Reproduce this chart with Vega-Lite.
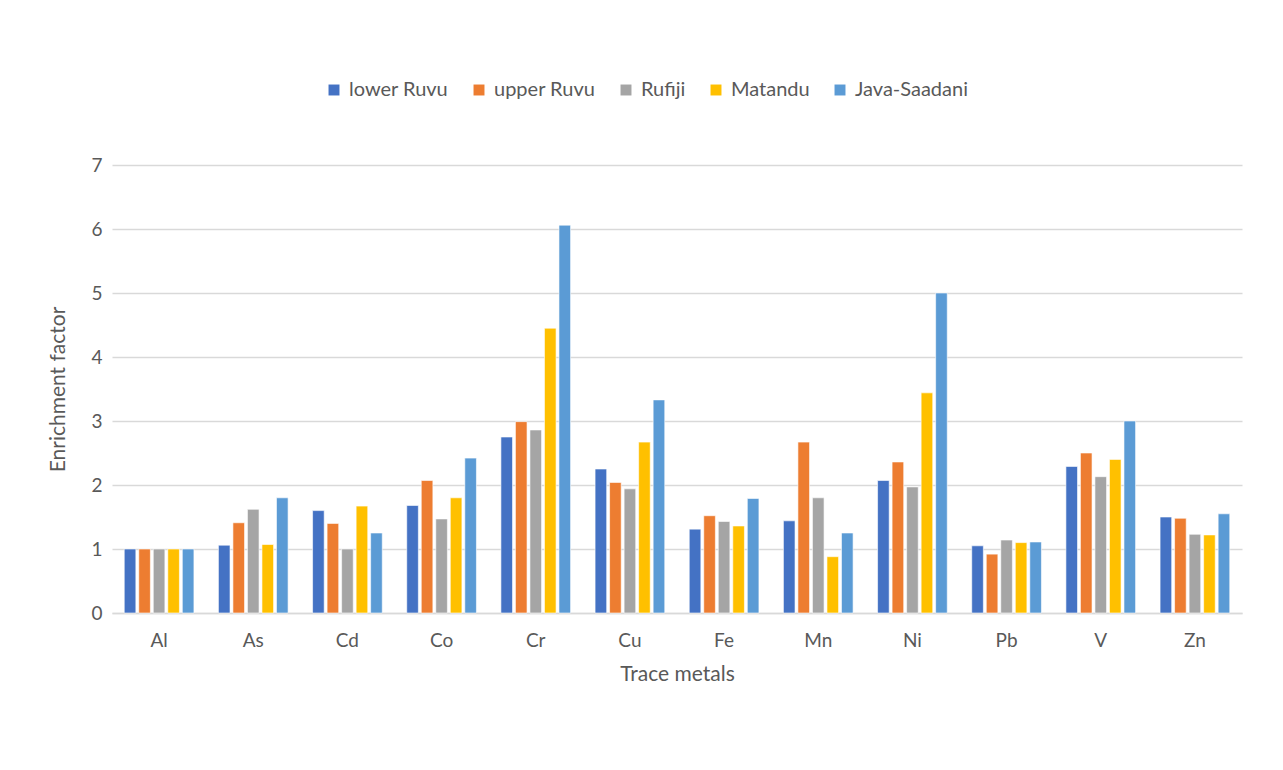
{
  "$schema": "https://vega.github.io/schema/vega-lite/v6.json",
  "autosize": "none",
  "width": 1130,
  "height": 448,
  "padding": {"left": 112, "top": 165, "right": 41, "bottom": 157},
  "background": "white",
  "data": {
    "values": [
      {"metal": "Al", "site": "lower Ruvu", "ef": 1.0},
      {"metal": "Al", "site": "upper Ruvu", "ef": 1.0},
      {"metal": "Al", "site": "Rufiji", "ef": 1.0},
      {"metal": "Al", "site": "Matandu", "ef": 1.0},
      {"metal": "Al", "site": "Java-Saadani", "ef": 1.0},
      {"metal": "As", "site": "lower Ruvu", "ef": 1.06},
      {"metal": "As", "site": "upper Ruvu", "ef": 1.41},
      {"metal": "As", "site": "Rufiji", "ef": 1.62},
      {"metal": "As", "site": "Matandu", "ef": 1.07},
      {"metal": "As", "site": "Java-Saadani", "ef": 1.8},
      {"metal": "Cd", "site": "lower Ruvu", "ef": 1.6},
      {"metal": "Cd", "site": "upper Ruvu", "ef": 1.4},
      {"metal": "Cd", "site": "Rufiji", "ef": 1.0},
      {"metal": "Cd", "site": "Matandu", "ef": 1.67},
      {"metal": "Cd", "site": "Java-Saadani", "ef": 1.25},
      {"metal": "Co", "site": "lower Ruvu", "ef": 1.68},
      {"metal": "Co", "site": "upper Ruvu", "ef": 2.07},
      {"metal": "Co", "site": "Rufiji", "ef": 1.47},
      {"metal": "Co", "site": "Matandu", "ef": 1.8},
      {"metal": "Co", "site": "Java-Saadani", "ef": 2.42},
      {"metal": "Cr", "site": "lower Ruvu", "ef": 2.75},
      {"metal": "Cr", "site": "upper Ruvu", "ef": 2.99},
      {"metal": "Cr", "site": "Rufiji", "ef": 2.86},
      {"metal": "Cr", "site": "Matandu", "ef": 4.45},
      {"metal": "Cr", "site": "Java-Saadani", "ef": 6.06},
      {"metal": "Cu", "site": "lower Ruvu", "ef": 2.25},
      {"metal": "Cu", "site": "upper Ruvu", "ef": 2.04},
      {"metal": "Cu", "site": "Rufiji", "ef": 1.94},
      {"metal": "Cu", "site": "Matandu", "ef": 2.67},
      {"metal": "Cu", "site": "Java-Saadani", "ef": 3.33},
      {"metal": "Fe", "site": "lower Ruvu", "ef": 1.31},
      {"metal": "Fe", "site": "upper Ruvu", "ef": 1.52},
      {"metal": "Fe", "site": "Rufiji", "ef": 1.43},
      {"metal": "Fe", "site": "Matandu", "ef": 1.36},
      {"metal": "Fe", "site": "Java-Saadani", "ef": 1.79},
      {"metal": "Mn", "site": "lower Ruvu", "ef": 1.44},
      {"metal": "Mn", "site": "upper Ruvu", "ef": 2.67},
      {"metal": "Mn", "site": "Rufiji", "ef": 1.8},
      {"metal": "Mn", "site": "Matandu", "ef": 0.88},
      {"metal": "Mn", "site": "Java-Saadani", "ef": 1.25},
      {"metal": "Ni", "site": "lower Ruvu", "ef": 2.07},
      {"metal": "Ni", "site": "upper Ruvu", "ef": 2.36},
      {"metal": "Ni", "site": "Rufiji", "ef": 1.97},
      {"metal": "Ni", "site": "Matandu", "ef": 3.44},
      {"metal": "Ni", "site": "Java-Saadani", "ef": 5.0},
      {"metal": "Pb", "site": "lower Ruvu", "ef": 1.05},
      {"metal": "Pb", "site": "upper Ruvu", "ef": 0.92},
      {"metal": "Pb", "site": "Rufiji", "ef": 1.14},
      {"metal": "Pb", "site": "Matandu", "ef": 1.1},
      {"metal": "Pb", "site": "Java-Saadani", "ef": 1.11},
      {"metal": "V", "site": "lower Ruvu", "ef": 2.29},
      {"metal": "V", "site": "upper Ruvu", "ef": 2.5},
      {"metal": "V", "site": "Rufiji", "ef": 2.13},
      {"metal": "V", "site": "Matandu", "ef": 2.4},
      {"metal": "V", "site": "Java-Saadani", "ef": 3.0},
      {"metal": "Zn", "site": "lower Ruvu", "ef": 1.5},
      {"metal": "Zn", "site": "upper Ruvu", "ef": 1.48},
      {"metal": "Zn", "site": "Rufiji", "ef": 1.23},
      {"metal": "Zn", "site": "Matandu", "ef": 1.22},
      {"metal": "Zn", "site": "Java-Saadani", "ef": 1.55}
    ]
  },
  "mark": {"type": "bar", "stroke": "white", "strokeWidth": 0.6},
  "encoding": {
    "x": {
      "field": "metal",
      "type": "nominal",
      "sort": null,
      "scale": {"paddingInner": 0.26, "paddingOuter": 0.13},
      "axis": {
        "title": "Trace metals",
        "labelAngle": 0,
        "labelFontSize": 19,
        "labelColor": "#595959",
        "labelPadding": 18,
        "titleFontSize": 21,
        "titleColor": "#595959",
        "titleFontWeight": "normal",
        "titlePadding": 13,
        "ticks": false,
        "domainColor": "#d9d9d9",
        "domainWidth": 1.5
      }
    },
    "xOffset": {
      "field": "site",
      "type": "nominal",
      "sort": ["lower Ruvu", "upper Ruvu", "Rufiji", "Matandu", "Java-Saadani"],
      "scale": {"paddingInner": 0.2}
    },
    "y": {
      "field": "ef",
      "type": "quantitative",
      "scale": {"domain": [0, 7], "nice": false},
      "axis": {
        "title": "Enrichment factor",
        "values": [0, 1, 2, 3, 4, 5, 6, 7],
        "labelFontSize": 19,
        "labelColor": "#595959",
        "labelPadding": 10,
        "titleFontSize": 21,
        "titleColor": "#595959",
        "titleFontWeight": "normal",
        "titlePadding": 22,
        "ticks": false,
        "domain": false,
        "gridColor": "#d9d9d9",
        "gridWidth": 1.5
      }
    },
    "color": {
      "field": "site",
      "type": "nominal",
      "sort": ["lower Ruvu", "upper Ruvu", "Rufiji", "Matandu", "Java-Saadani"],
      "scale": {
        "domain": ["lower Ruvu", "upper Ruvu", "Rufiji", "Matandu", "Java-Saadani"],
        "range": ["#4472C4", "#ED7D31", "#A5A5A5", "#FFC000", "#5B9BD5"]
      },
      "legend": {
        "title": null,
        "orient": "none",
        "direction": "horizontal",
        "legendX": 212,
        "legendY": -85,
        "symbolType": "square",
        "symbolSize": 120,
        "symbolStrokeWidth": 0,
        "labelFontSize": 20,
        "labelColor": "#595959",
        "labelOffset": 5,
        "columnPadding": 20
      }
    }
  },
  "config": {
    "font": "Lato",
    "view": {"stroke": null}
  }
}
